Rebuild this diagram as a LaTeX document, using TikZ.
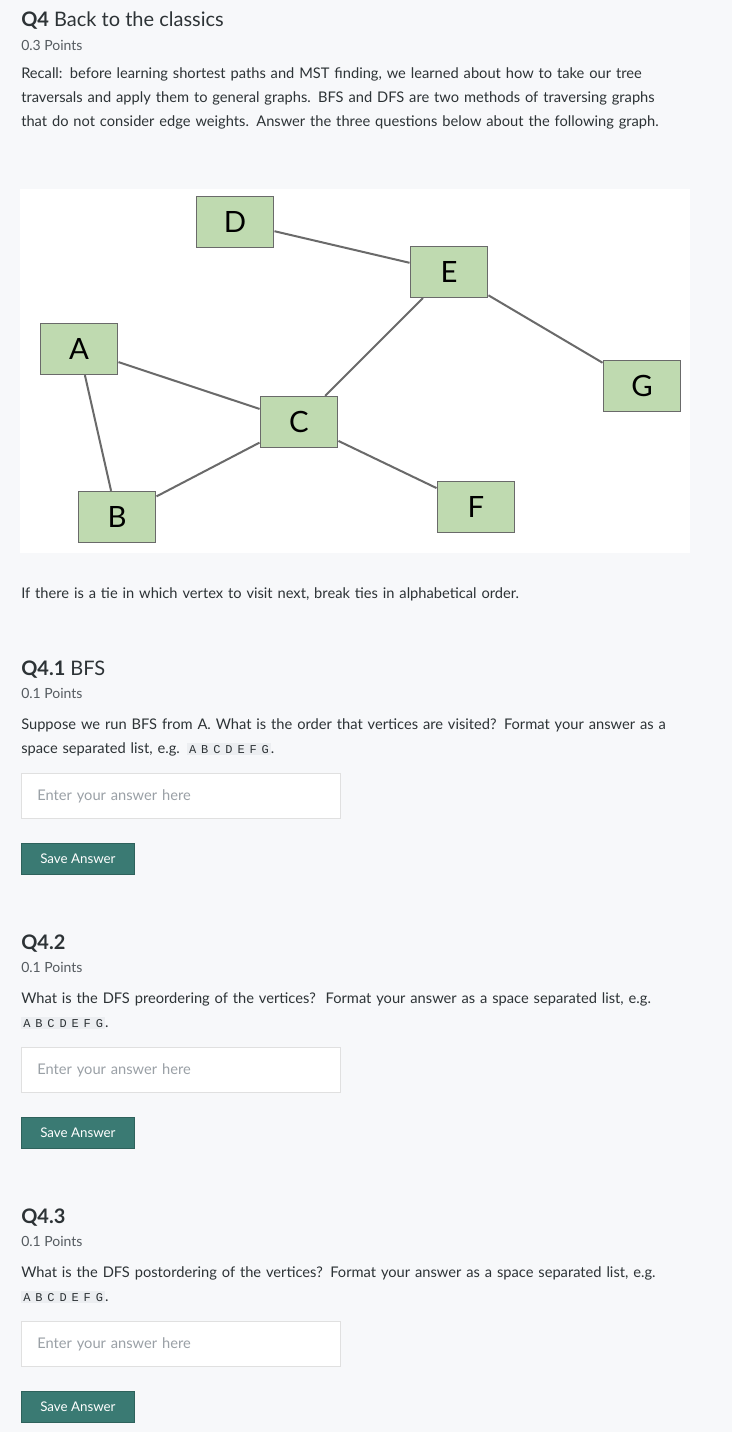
\documentclass[tikz,border=0pt]{standalone}
\usepackage{fontspec}
\setmainfont{Lato}
\newfontfamily\codefont{Liberation Mono}
\usetikzlibrary{positioning}
\definecolor{pagebg}{HTML}{F7F8FA}
\definecolor{txt}{HTML}{2D3336}
\definecolor{subtxt}{HTML}{555B60}
\definecolor{vfill}{HTML}{BFDAB0}
\definecolor{vdraw}{HTML}{6A6A6A}
\definecolor{btn}{HTML}{3A7A73}
\definecolor{codebg}{HTML}{ECEEF1}
\definecolor{hint}{HTML}{9AA0A6}
\newcommand{\codelist}{\setlength{\fboxsep}{1.5pt}\colorbox{codebg}{\codefont\fontsize{9}{10}\selectfont A B C D E F G}}
\begin{document}
\begin{tikzpicture}[x=0.75pt,y=-0.75pt,
    vertex/.style={rectangle,draw=vdraw,line width=1.2pt,fill=vfill,minimum width=58pt,minimum height=38pt,font=\fontsize{22}{22}\selectfont},
    edge/.style={draw=vdraw,line width=1.5pt},
    title/.style={anchor=west,text=txt,font=\fontsize{15}{18}\selectfont,inner sep=0pt},
    points/.style={anchor=west,text=subtxt,font=\fontsize{10.5}{12}\selectfont,inner sep=0pt},
    para/.style={anchor=north west,text=txt,text width=495pt,align=left,inner sep=0pt,font=\fontsize{11}{18}\selectfont},
    answerbox/.style={rectangle,draw=black!12,fill=white,minimum width=239pt,minimum height=34pt,anchor=north west,text=hint,font=\fontsize{11}{13}\selectfont,align=left,text width=215pt,inner xsep=12pt},
    savebtn/.style={rectangle,draw=btn!80!black,fill=btn,text=white,minimum width=85pt,minimum height=23pt,anchor=north west,font=\fontsize{10}{12}\selectfont}]

  \fill[pagebg] (0,0) rectangle (732,1432);

  % heading
  \node[title] (q4) at (21,21) {\textbf{Q4} Back to the classics};
  \node[points] (q4pts) at (21,45) {0.3 Points};
  \node[para] (intro) at (21,67) {Recall: before learning shortest paths and MST finding, we learned about how to take our tree traversals and apply them to general graphs. BFS and DFS are two methods of traversing graphs that do not consider edge weights. Answer the three questions below about the following graph.};

  % graph
  \fill[white] (20,189) rectangle (690,553);
  \node[vertex] (A) at (79,349) {A};
  \node[vertex] (B) at (117,517) {B};
  \node[vertex] (C) at (299,422) {C};
  \node[vertex] (D) at (235,222) {D};
  \node[vertex] (E) at (449,272) {E};
  \node[vertex] (F) at (476,507) {F};
  \node[vertex] (G) at (642,386) {G};
  \path[edge] (A) -- (B) (A) -- (C) (B) -- (C) (C) -- (E) (C) -- (F) (D) -- (E) (E) -- (G);

  \node[para] (tie) at (21,587) {If there is a tie in which vertex to visit next, break ties in alphabetical order.};

  % Q4.1
  \node[title] (q41) at (21,670) {\textbf{Q4.1} BFS};
  \node[points] (q41pts) at (21,693) {0.1 Points};
  \node[para] (q41txt) at (21,718) {Suppose we run BFS from A. What is the order that vertices are visited? Format your answer as a space separated list, e.g. \codelist.};
  \node[answerbox] (ans1) at (21,773) {Enter your answer here};
  \node[savebtn] (save1) at (21,843) {Save Answer};

  % Q4.2
  \node[title] (q42) at (21,944) {\textbf{Q4.2}};
  \node[points] (q42pts) at (21,967) {0.1 Points};
  \node[para] (q42txt) at (21,992) {What is the DFS preordering of the vertices?\ \ Format your answer as a space separated list, e.g. \codelist.};
  \node[answerbox] (ans2) at (21,1047) {Enter your answer here};
  \node[savebtn] (save2) at (21,1117) {Save Answer};

  % Q4.3
  \node[title] (q43) at (21,1218) {\textbf{Q4.3}};
  \node[points] (q43pts) at (21,1241) {0.1 Points};
  \node[para] (q43txt) at (21,1266) {What is the DFS postordering of the vertices? Format your answer as a space separated list, e.g. \codelist.};
  \node[answerbox] (ans3) at (21,1321) {Enter your answer here};
  \node[savebtn] (save3) at (21,1391) {Save Answer};
\end{tikzpicture}
\end{document}
